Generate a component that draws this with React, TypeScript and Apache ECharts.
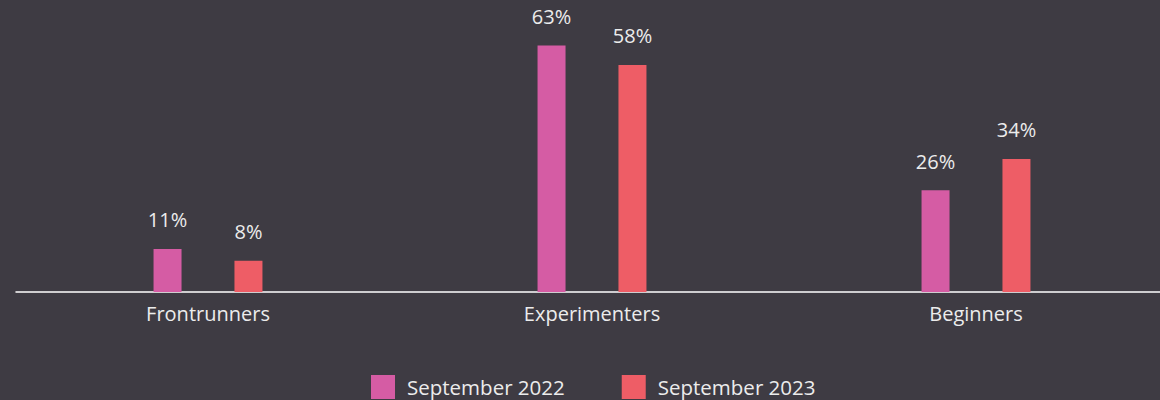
import React, { useEffect, useRef } from "react";
import * as echarts from "echarts";

const categories = ["Frontrunners", "Experimenters", "Beginners"];
const sept2022 = [11, 63, 26];
const sept2023 = [8, 58, 34];
const seriesNames = ["September 2022", "September 2023"];

export default function App() {
  const ref = useRef<HTMLDivElement>(null);
  useEffect(() => {
    if (!ref.current) return;
    const chart = echarts.init(ref.current, null, { renderer: "svg" });
    const font = "'Open Sans', 'Noto Sans', sans-serif";
    const txt = "#ececec";
    const label = {
      show: true,
      position: "top",
      distance: 19,
      formatter: "{c}%",
      color: txt,
      fontSize: 20,
      fontFamily: font,
    };
    chart.setOption({
      animation: false,
      backgroundColor: "#3e3b43",
      textStyle: { fontFamily: font },
      grid: { left: 16, right: 0, top: 18, height: 274, containLabel: false },
      legend: {
        top: 370,
        left: 366,
        itemWidth: 24,
        itemHeight: 24,
        itemGap: 57,
        icon: "rect",
        textStyle: { color: txt, fontSize: 20.5, fontFamily: font, padding: [0, 0, 0, 7] },
        data: seriesNames,
      },
      xAxis: {
        type: "category",
        data: categories,
        axisLine: { show: true, lineStyle: { color: "#ffffff", width: 1.5 } },
        axisTick: { show: false },
        axisLabel: { color: txt, fontSize: 20, margin: 11, fontFamily: font },
      },
      yAxis: {
        type: "value",
        min: 0,
        max: 70,
        show: false,
        splitLine: { show: false },
      },
      series: [
        {
          name: seriesNames[0],
          type: "bar",
          data: sept2022,
          barWidth: 28,
          barGap: "189%",
          itemStyle: { color: "#d55ca4" },
          label,
        },
        {
          name: seriesNames[1],
          type: "bar",
          data: sept2023,
          barWidth: 28,
          barGap: "189%",
          itemStyle: { color: "#ee5d66" },
          label,
        },
      ],
    });
    return () => chart.dispose();
  }, []);
  return (
    <div
      style={{
        position: "absolute",
        left: 0,
        top: 0,
        width: 1160,
        height: 400,
        overflow: "hidden",
        background: "#3e3b43",
      }}
    >
      <div ref={ref} style={{ width: 1168, height: 400 }} />
    </div>
  );
}
